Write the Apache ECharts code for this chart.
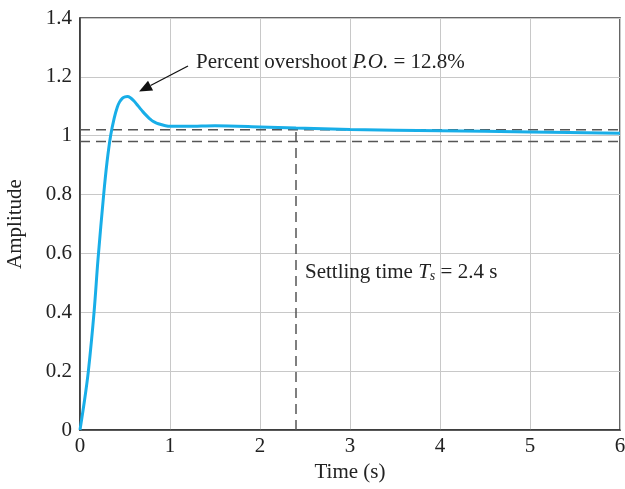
<!DOCTYPE html>
<html><head><meta charset="utf-8">
<script src="https://cdn.jsdelivr.net/npm/echarts@6/dist/echarts.min.js"></script>
<style>html,body{margin:0;padding:0;background:#fff}#c{width:625px;height:489px}</style>
</head><body><div id="c"></div>
<script>
// Step response
var time      = [0, 0.05, 0.093, 0.156, 0.2, 0.263, 0.3, 0.34, 0.38, 0.414, 0.44, 0.47, 0.5, 0.526, 0.56, 0.6, 0.63, 0.667, 0.7, 0.75, 0.78, 0.81, 0.85, 0.9, 0.95, 1.0, 1.2, 1.5, 2.0, 2.4, 3, 4, 5, 6];
var amplitude = [0, 0.10, 0.2, 0.4, 0.58, 0.8, 0.91, 1.0, 1.06, 1.097, 1.115, 1.127, 1.132, 1.133, 1.129, 1.118, 1.107, 1.093, 1.081, 1.065, 1.056, 1.049, 1.043, 1.038, 1.034, 1.032, 1.032, 1.034, 1.03, 1.026, 1.021, 1.017, 1.013, 1.008];
var bandUpper = 1.02, bandLower = 0.98;
var settlingTime = 2.4;
var xMax = 6, yMax = 1.4;
var overshootText = ['Percent overshoot ', 'P.O.', ' = 12.8%'];
var settlingText = ['Settling time ', 'T', 's', ' = 2.4 s'];

var font = '"Liberation Serif", "Times New Roman", serif';
var fs = 21;
var chart = echarts.init(document.getElementById('c'));
var dash = {color:'#555', width:1.5, type:[10,6]};
chart.setOption({
  animation:false,
  grid:{left:80, right:5, top:18, bottom:59, show:true, borderColor:'#333', borderWidth:1.5, outerBoundsMode:'none', containLabel:false},
  xAxis:{type:'value', min:0, max:xMax, interval:1, name:'Time (s)', nameLocation:'middle', nameGap:30,
    nameTextStyle:{fontFamily:font, fontSize:fs, color:'#222'},
    axisLine:{lineStyle:{color:'#333', width:1.5}}, axisTick:{show:false},
    axisLabel:{fontFamily:font, fontSize:fs, color:'#222', margin:6},
    splitLine:{lineStyle:{color:'#c8c8c8', width:1}}},
  yAxis:{type:'value', min:0, max:yMax, interval:0.2, name:'Amplitude', nameLocation:'middle', nameGap:54,
    nameTextStyle:{fontFamily:font, fontSize:fs, color:'#222'},
    axisLine:{show:true, lineStyle:{color:'#333', width:1.5}}, axisTick:{show:false},
    axisLabel:{fontFamily:font, fontSize:fs, color:'#222', margin:8},
    splitLine:{lineStyle:{color:'#c8c8c8', width:1}}},
  series:[
    {type:'line', data:[[0,bandUpper],[xMax,bandUpper]], symbol:'none', lineStyle:dash, z:3},
    {type:'line', data:[[0,bandLower],[xMax,bandLower]], symbol:'none', lineStyle:dash, z:3},
    {type:'line', data:[[settlingTime,0],[settlingTime,bandUpper]], symbol:'none', lineStyle:dash, z:3},
    {type:'line', data:time.map(function(t,i){return [t, amplitude[i]];}), symbol:'none', smooth:0.3,
      lineStyle:{color:'#18aee8', width:3}, z:4}
  ]
});

function px(x,y){return chart.convertToPixel({gridIndex:0},[x,y]);}
var tail = px(1.2, 1.237), tip = px(0.656, 1.15);
var dx = tip[0]-tail[0], dy = tip[1]-tail[1], L = Math.sqrt(dx*dx+dy*dy);
var ux = dx/L, uy = dy/L, hl = 13, hw = 5.5;
var bx = tip[0]-ux*hl, by = tip[1]-uy*hl;
var t1 = px(1.29, 1.245), t2 = px(2.5, 0.531);
chart.setOption({graphic:[
  {type:'line', shape:{x1:tail[0], y1:tail[1], x2:bx, y2:by}, style:{stroke:'#111', lineWidth:1.3}},
  {type:'polygon', shape:{points:[[tip[0],tip[1]],[bx-uy*hw,by+ux*hw],[bx+uy*hw,by-ux*hw]]}, style:{fill:'#111'}},
  {type:'text', left:t1[0], top:t1[1]-12, style:{
    text:'{n|'+overshootText[0]+'}{i|'+overshootText[1]+'}{n|'+overshootText[2]+'}',
    rich:{n:{fontFamily:font, fontSize:fs, fill:'#222'}, i:{fontFamily:font, fontSize:fs, fontStyle:'italic', fill:'#222'}}}},
  {type:'text', left:t2[0], top:t2[1]-12, style:{
    text:'{n|'+settlingText[0]+'}{i|'+settlingText[1]+'}{s|'+settlingText[2]+'}{n|'+settlingText[3]+'}',
    rich:{n:{fontFamily:font, fontSize:fs, fill:'#222'}, i:{fontFamily:font, fontSize:fs, fontStyle:'italic', fill:'#222'},
      s:{fontFamily:font, fontSize:14, fontStyle:'italic', fill:'#222', padding:[9,0,0,0]}}}}
]});
</script></body></html>
